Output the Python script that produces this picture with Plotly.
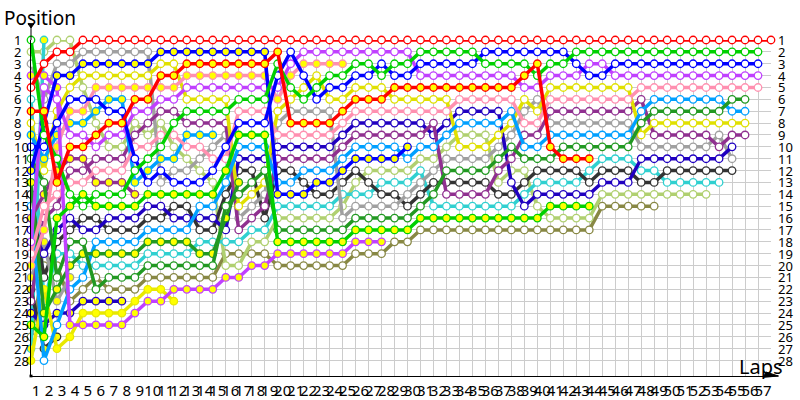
import plotly.graph_objects as go

LAPS = list(range(1, 58))
POSITIONS = list(range(1, 29))

# positions per car, first value is the grid slot (column 0), then one per lap
red = [5, 3, 2, 2, 1, 1, 1, 1, 1, 1, 1, 1, 1, 1, 1, 1, 1, 1, 1, 1, 1, 1, 1, 1, 1, 1, 1, 1, 1, 1, 1, 1, 1, 1, 1, 1, 1, 1, 1, 1, 1, 1, 1, 1, 1, 1, 1, 1, 1, 1, 1, 1, 1, 1, 1, 1, 1, 1]
red_y = [7, 7, 13, 10, 10, 9, 8, 8, 6, 6, 4, 4, 3, 3, 3, 3, 3, 3, 3, 2, 8, 8, 8, 8, 7, 6, 6, 6, 5, 5, 5, 5, 5, 5, 5, 5, 5, 5, 4, 3, 10, 11, 11, 11]
green = [1, 9, 11, 14, 15, 14, 14, 14, 12, 11, 10, 8, 7, 7, 7, 7, 6, 6, 6, 3, 5, 6, 5, 4, 4, 3, 3, 4, 3, 3, 2, 2, 2, 2, 2, 3, 3, 3, 3, 4, 3, 3, 2, 2, 2, 2, 2, 2, 2, 2, 2, 2, 2, 2, 2, 2, 2]
green_y = [25, 26, 16, 15, 14, 15, 15, 15, 15, 14, 14, 14, 14, 14, 14, 12, 9, 9, 9, 18, 18, 18, 18, 18, 18, 17, 17, 17, 17, 17, 16, 16, 16, 16, 16, 16, 16, 16, 16, 16, 15, 15, 15, 15]
blue = [10, 10, 8, 6, 6, 6, 7, 7, 11, 13, 12, 13, 13, 13, 12, 10, 8, 8, 8, 4, 2, 4, 6, 5, 5, 4, 4, 3, 4, 4, 3, 3, 3, 3, 3, 2, 2, 2, 2, 2, 2, 2, 3, 4, 4, 3, 3, 3, 3, 3, 3, 3, 3, 3, 3, 3, 3]
blue_y = [12, 8, 4, 4, 3, 3, 3, 3, 3, 3, 2, 2, 2, 2, 2, 2, 2, 2, 2, 14, 14, 14, 13, 13, 12, 11, 11, 11, 11, 10]
purple = [18, 5, 6, 9, 9, 10, 9, 9, 7, 7, 6, 6, 5, 5, 5, 5, 5, 5, 5, 5, 3, 2, 2, 2, 2, 2, 2, 2, 2, 2, 4, 4, 4, 4, 4, 4, 4, 4, 5, 5, 4, 4, 4, 3, 3, 4, 4, 4, 4, 4, 4, 4, 4, 4, 4, 4, 4]
purple_y = [4, 4, 5, 25, 25, 25, 25, 25, 24, 23, 23, 22, 22, 22, 22, 21, 21, 20, 20, 19, 19, 19, 19, 19, 19, 18, 18, 18]
pink = [19, 15, 14, 13, 13, 12, 12, 12, 10, 10, 9, 9, 10, 10, 11, 11, 7, 7, 7, 9, 9, 9, 9, 9, 8, 7, 7, 7, 7, 7, 7, 7, 7, 6, 6, 6, 6, 6, 8, 8, 6, 6, 6, 6, 6, 6, 6, 5, 5, 5, 5, 5, 5, 5, 5, 5, 5]
pink_y = [20, 17, 10, 7, 7, 5, 5, 5, 5, 5, 5, 5, 4, 4, 4, 4, 4, 4, 4, 6, 4, 3, 3, 3, 3]
dgreen = [11, 13, 21, 18, 18, 22, 21, 21, 21, 20, 20, 20, 20, 20, 20, 15, 14, 13, 12, 17, 17, 17, 17, 17, 17, 16, 16, 16, 16, 16, 15, 14, 12, 12, 12, 12, 11, 10, 11, 11, 11, 10, 10, 10, 10, 10, 10, 8, 7, 7, 7, 7, 7, 7, 6, 6]
dgreen_y = [13, 24, 22, 20, 19, 19, 19, 19, 19, 18, 18, 18, 18, 19, 19, 16, 13]
sky = [15, 28, 25, 22, 21, 18, 18, 18, 18, 17, 17, 17, 17, 15, 15, 13, 10, 10, 10, 13, 13, 12, 12, 12, 11, 10, 10, 10, 10, 11, 10, 10, 9, 8, 8, 8, 8, 7, 10, 10, 9, 9, 9, 9, 9, 9, 9, 7, 6, 6, 6, 6, 6, 6, 7, 7]
sky_y = [9, 11, 9, 8, 8, 7, 6, 6, 13, 12, 11, 11, 9, 9, 9]
yellow = [8, 12, 7, 5, 4, 4, 4, 4, 4, 4, 3, 3, 6, 6, 6, 6, 15, 14, 13, 7, 6, 5, 4, 6, 6, 5, 5, 5, 6, 6, 6, 6, 6, 10, 10, 10, 9, 8, 6, 7, 5, 5, 5, 5, 5, 5, 5, 9, 8, 8, 8, 8, 8, 8, 8, 8]
yellow_y = [28, 22, 27, 26, 24, 24, 24, 24, 23, 22, 22, 23]
violet = [23, 16, 15, 12, 12, 11, 11, 11, 9, 8, 7, 7, 8, 8, 8, 8, 17, 16, 15, 11, 11, 11, 11, 11, 10, 9, 9, 9, 9, 9, 9, 8, 14, 14, 14, 14, 12, 11, 9, 9, 7, 7, 7, 7, 7, 7, 7, 6, 9, 9, 9, 9, 9, 10, 9, 9]
violet_y = [16, 14, 12, 11, 11, 13, 13, 13, 14]
navy = [17, 19, 17, 16, 17, 17, 16, 16, 16, 15, 15, 16, 16, 16, 16, 17, 11, 11, 11, 10, 10, 10, 10, 10, 9, 8, 8, 8, 8, 8, 8, 9, 8, 7, 7, 7, 7, 13, 15, 14, 14, 14, 14, 14, 13, 13, 13, 11, 11, 11, 11, 11, 11, 11, 10]
navy_y = [24, 25, 24, 24, 23, 23, 23, 23]
gray = [3, 6, 3, 3, 2, 2, 2, 2, 2, 2, 13, 12, 12, 11, 10, 9, 16, 15, 14, 8, 7, 7, 7, 7, 16, 15, 15, 15, 15, 14, 13, 12, 11, 11, 11, 11, 10, 9, 7, 6, 8, 8, 8, 8, 8, 8, 8, 10, 10, 10, 10, 10, 10, 9, 11]
gray_y = [21, 18, 23, 21]
charcoal = [14, 21, 18, 17, 16, 16, 17, 17, 17, 16, 16, 15, 15, 17, 17, 14, 12, 12, 16, 12, 12, 13, 14, 14, 13, 12, 13, 14, 14, 15, 14, 13, 13, 13, 13, 13, 14, 14, 13, 12, 12, 12, 12, 13, 12, 12, 12, 13, 13, 12, 12, 12, 12, 12, 12]
charcoal_y = [22, 27, 26]
teal = [6, 23, 19, 19, 20, 20, 20, 20, 20, 19, 19, 19, 19, 18, 18, 18, 18, 17, 17, 15, 15, 15, 15, 15, 14, 14, 14, 13, 13, 13, 12, 15, 15, 15, 15, 15, 15, 15, 14, 13, 13, 13, 13, 12, 11, 11, 11, 12, 12, 13, 13, 13, 13, 13]
teal_y = [27, 1]
lime = [2, 2, 1, 1, 5, 8, 10, 10, 8, 9, 8, 10, 11, 12, 13, 20, 20, 18, 18, 16, 16, 16, 16, 16, 15, 13, 12, 12, 12, 12, 11, 11, 10, 9, 9, 9, 13, 12, 12, 15, 16, 16, 16, 16, 14, 14, 14, 14, 14, 14, 14, 14, 14]
olive = [26, 20, 20, 23, 22, 21, 22, 22, 22, 21, 21, 21, 21, 21, 21, 19, 19, 19, 19, 20, 20, 20, 20, 20, 20, 19, 19, 19, 18, 18, 17, 17, 17, 17, 17, 17, 17, 17, 17, 17, 17, 17, 17, 17, 15, 15, 15, 15, 15]

# drawn back to front, red ends up on top
cars = [
    (olive, "#888844", False),
    (lime, "#b0d070", False),
    (teal_y, "#30d0d0", True),
    (teal, "#30d0d0", False),
    (charcoal_y, "#333333", True),
    (charcoal, "#333333", False),
    (gray_y, "#a0a0a0", True),
    (gray, "#a0a0a0", False),
    (navy_y, "#2000c0", True),
    (navy, "#2000c0", False),
    (violet_y, "#903090", True),
    (violet, "#903090", False),
    (yellow_y, "#e8e800", True),
    (yellow, "#e0e000", False),
    (sky_y, "#00a0ff", True),
    (sky, "#00a0ff", False),
    (dgreen_y, "#229922", True),
    (dgreen, "#229922", False),
    (pink_y, "#ff90b0", True),
    (pink, "#ff90b0", False),
    (purple_y, "#c040ff", True),
    (purple, "#c040ff", False),
    (blue_y, "#0000ff", True),
    (blue, "#0000ff", False),
    (green_y, "#00d000", True),
    (green, "#00d000", False),
    (red_y, "#ff0000", True),
    (red, "#ff0000", False),
]

FONT = "Noto Sans"
PLOT_W = 740
PLOT_H = 335.4
Y_BOTTOM = 29.3

fig = go.Figure()
for values, color, filled in cars:
    fig.add_trace(
        go.Scatter(
            x=list(range(len(values))),
            y=values,
            mode="lines+markers",
            line=dict(color=color, width=3.5),
            marker=dict(
                size=7.5,
                color="#ffff00" if filled else "white",
                line=dict(color=color, width=1.3),
            ),
            cliponaxis=False,
            hoverinfo="skip",
        )
    )

# position labels sit left aligned on both sides of the chart
position_labels = []
for p in POSITIONS:
    for paper_x in (-17.7 / PLOT_W, 746.3 / PLOT_W):
        position_labels.append(
            dict(text=str(p), xref="paper", yref="y", x=paper_x, y=p,
                 xanchor="left", yanchor="middle", showarrow=False,
                 borderpad=0, font=dict(family=FONT, size=13))
        )

fig.update_layout(
    width=800,
    height=400,
    autosize=False,
    showlegend=False,
    plot_bgcolor="white",
    paper_bgcolor="white",
    margin=dict(l=30.7, r=29.3, t=40.3, b=24.3, pad=0),
    font=dict(family=FONT, color="black"),
    xaxis=dict(
        automargin=False,
        range=[0, 57],
        tickvals=[0] + LAPS,
        ticktext=[""] + [str(lap) for lap in LAPS],
        tickangle=0,
        ticks="",
        ticklabelshift=-8,
        ticklabelstandoff=1,
        tickfont=dict(family=FONT, size=15),
        showgrid=True,
        gridcolor="#cccccc",
        gridwidth=1,
        zeroline=False,
        showline=True,
        linecolor="black",
        linewidth=1,
    ),
    yaxis=dict(
        automargin=False,
        range=[Y_BOTTOM, 1],
        tickvals=POSITIONS,
        showticklabels=False,
        ticks="",
        showgrid=True,
        gridcolor="#cccccc",
        gridwidth=1,
        zeroline=False,
        showline=True,
        linecolor="black",
        linewidth=1,
    ),
    shapes=[
        dict(type="line", xref="paper", yref="paper", x0=0, x1=0, y0=1, y1=1.045,
             line=dict(color="black", width=1)),
        dict(type="line", xref="paper", yref="paper", x0=1, x1=1.01, y0=0, y1=0,
             line=dict(color="black", width=1)),
        dict(type="path", xref="paper", yref="paper",
             path="M -0.004 1.048 L 0.004 1.048 L 0 1.036 Z",
             fillcolor="black", line=dict(color="black", width=1)),
        dict(type="path", xref="paper", yref="paper",
             path="M 0.99 -0.004 L 0.993 0.012 L 1.01 0 Z",
             fillcolor="black", line=dict(color="black", width=1)),
        dict(type="rect", xref="paper", yref="paper",
             x0=-0.002, x1=0.002, y0=-0.004, y1=0.004,
             fillcolor="black", line=dict(color="black", width=0)),
    ],
    annotations=position_labels + [
        dict(text="Position", xref="paper", yref="paper", x=-27.7 / PLOT_W, y=1 + 22 / PLOT_H,
             xanchor="left", yanchor="middle", showarrow=False, borderpad=0,
             font=dict(family=FONT, size=19)),
        dict(text="Laps", xref="paper", yref="paper", x=1 + 13 / PLOT_W, y=9 / PLOT_H,
             xanchor="right", yanchor="middle", showarrow=False, borderpad=0,
             font=dict(family=FONT, size=20)),
    ],
)

fig.write_html(
    "out.html",
    config={"displayModeBar": False},
    post_script="document.body.style.margin='0';",
)
